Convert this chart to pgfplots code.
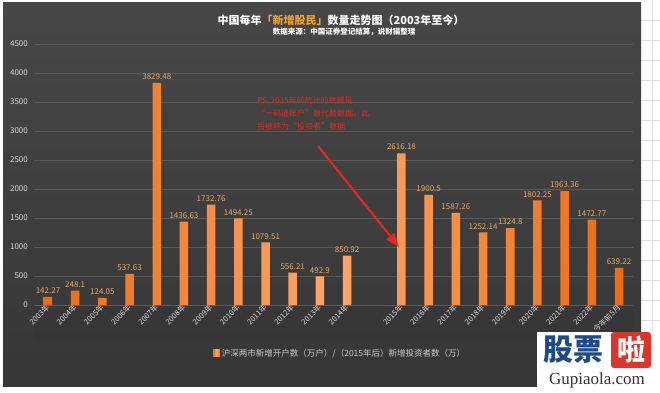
\documentclass[border=0pt]{standalone}
\usepackage{fontspec}
\setmainfont{Noto Sans CJK SC}
\newfontfamily\serifont{Liberation Serif}
\usepackage{pgfplots}
\pgfplotsset{compat=1.18}
\usetikzlibrary{arrows.meta}
\definecolor{bgtop}{HTML}{474747}
\definecolor{bgbot}{HTML}{363636}
\definecolor{gridc}{HTML}{5A5A5A}
\definecolor{bard}{HTML}{EC6A12}
\definecolor{barl}{HTML}{FFA66A}
\definecolor{labc}{HTML}{E9A860}
\definecolor{titleor}{HTML}{F0A030}
\definecolor{notered}{HTML}{E42A20}
\definecolor{logoblue}{HTML}{1E4A8A}
\definecolor{logored}{HTML}{D9362B}
\begin{document}
\begin{tikzpicture}[x=1pt,y=1pt]
% white page and spreadsheet strip
\fill[white] (0,0) rectangle (660,392);
\foreach \yy in {12,32,52,72,92,112,132,152,172,192,212,232,252,272,292,312,332,352,372}
  \draw[black!12, line width=0.4pt] (641,\yy) -- (660,\yy);
\draw[black!12, line width=0.4pt] (652,0) -- (652,392);
% dark background
\fill[top color=bgtop, bottom color=bgbot] (3,6) rectangle (641,389);
\fill[black!80, opacity=0.25] (34,52) rectangle (633,87);
% title
\node[font=\bfseries\fontsize{11}{13}\selectfont, text=white] at (341,372)
  {中国每年{\color{titleor}「新增股民」}数量走势图（2003年至今）};
\node[font=\bfseries\fontsize{7.5}{9}\selectfont, text=white] at (344,360)
  {数据来源：中国证券登记结算，说财猫整理};
\begin{axis}[
  at={(34.4pt,87pt)}, anchor=south west,
  scale only axis, width=598.2pt, height=261pt,
  xmin=-0.5, xmax=21.5, ymin=0, ymax=4500,
  ytick={0,500,...,4500},
  xtick={0,1,2,3,4,5,6,7,8,9,10,11,13,14,15,16,17,18,19,20,21},
  xticklabels={2003年,2004年,2005年,2006年,2007年,2008年,2009年,2010年,2011年,2012年,2013年,2014年,2015年,2016年,2017年,2018年,2019年,2020年,2021年,2022年,今年前5月},
  xticklabel style={rotate=45, anchor=east, font=\fontsize{7.5}{8}\selectfont, text=white!85!black, inner sep=1pt, yshift=-1pt},
  yticklabel style={font=\fontsize{8}{9}\selectfont, text=white!85!black, xshift=-3pt},
  /pgf/number format/assume math mode=true,
  /pgf/number format/1000 sep={},
  axis line style={draw=none},
  major tick length=0pt,
  ymajorgrids, grid style={gridc, line width=0.6pt},
  legend style={at={(0.511,-0.185)}, anchor=center, draw=none, fill=none,
    font=\fontsize{8.5}{10}\selectfont, text=white!80!black},
  legend image code/.code={\fill[bard] (0pt,-3.5pt) rectangle (7pt,3.5pt);},
]
\addplot[ybar, bar width=8.5pt, draw=none,
  left color=bard, right color=bard, middle color=barl,
  point meta=explicit symbolic,
  nodes near coords,
  nodes near coords style={font=\fontsize{8}{9}\selectfont, text=labc, inner sep=1pt, yshift=2pt}]
coordinates {
(0,142.27) [142.27]
(1,248.1) [248.1]
(2,124.05) [124.05]
(3,537.63) [537.63]
(4,3829.48) [3829.48]
(5,1436.63) [1436.63]
(6,1732.76) [1732.76]
(7,1494.25) [1494.25]
(8,1079.51) [1079.51]
(9,556.21) [556.21]
(10,492.9) [492.9]
(11,850.92) [850.92]
(13,2616.18) [2616.18]
(14,1900.5) [1900.5]
(15,1587.26) [1587.26]
(16,1252.14) [1252.14]
(17,1324.8) [1324.8]
(18,1802.25) [1802.25]
(19,1963.36) [1963.36]
(20,1472.77) [1472.77]
(21,639.22) [639.22]
};
\addlegendentry{沪深两市新增开户数（万户）/（2015年后）新增投资者数（万）}
\end{axis}
% note
\node[anchor=north west, align=left, text=notered, font=\fontsize{8}{13}\selectfont, inner sep=0pt] at (257,295)
  {PS: 2015年前统计的数据是\\“一码通账户”数代替数据，此\\后被称为“投资者”数据};
\draw[notered, line width=2pt, -{Triangle[length=14pt,width=10pt]}] (318,246) -- (399,145);
% logo
\fill[white] (537,0) rectangle (660,60);
\node[font=\bfseries\fontsize{30}{32}\selectfont, text=logoblue, inner sep=0pt] at (573,42) {股票};
\fill[logored, rounded corners=3pt] (611,24) rectangle (651,60);
\node[font=\bfseries\fontsize{28}{30}\selectfont, text=white, inner sep=0pt] at (631,42) {啦};
\node[font=\serifont\fontsize{17}{18}\selectfont, text=black!80, inner sep=0pt] at (597,12) {Gupiaola.com};
\pgfresetboundingbox
\path (0,0) rectangle (660,392);
\end{tikzpicture}
\end{document}
